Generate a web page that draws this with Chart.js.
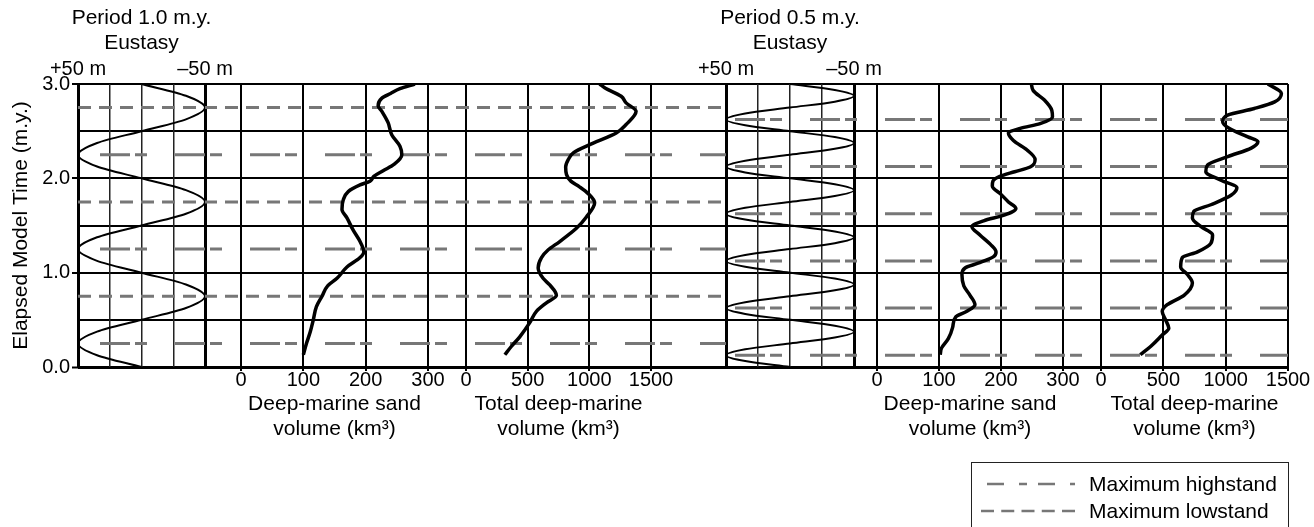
<!DOCTYPE html>
<html>
<head>
<meta charset="utf-8">
<script src="https://cdn.jsdelivr.net/npm/chart.js@4.4.1/dist/chart.umd.min.js"></script>
<style>
  body { margin: 0; background: #fff; font-family: "Liberation Sans", Arial, sans-serif; }
  #wrap { position: relative; width: 1314px; height: 527px; overflow: hidden; }
  #chart { position: absolute; left: 0; top: 0; }
  #legend { position: absolute; left: 971px; top: 462px; width: 316px; height: 90px; border: 1px solid #222; }
  #legend svg { position: absolute; left: 0; top: 0; }
  #legend span { position: absolute; left: 117px; font-size: 21px; line-height: 24px; color: #000; white-space: nowrap; }
</style>
</head>
<body>
<div id="wrap">
  <canvas id="chart" width="1314" height="527"></canvas>
  <div id="legend">
    <svg width="316" height="90">
      <line x1="15" y1="21" x2="103" y2="21" stroke="#777" stroke-width="2.5" stroke-dasharray="17 15 8 11"/>
      <line x1="9" y1="48" x2="103" y2="48" stroke="#777" stroke-width="2.5" stroke-dasharray="13 7.25"/>
    </svg>
    <span style="top:9px">Maximum highstand</span>
    <span style="top:36px">Maximum lowstand</span>
  </div>
</div>
<script>
// eustasy, period 1.0 m.y. (m, + = highstand)
const eust1Time = [0, 0.125, 0.25, 0.375, 0.5, 0.625, 0.75, 0.875, 1, 1.125, 1.25, 1.375, 1.5, 1.625, 1.75, 1.875,
  2, 2.125, 2.25, 2.375, 2.5, 2.625, 2.75, 2.875, 3];
const eust1Level = [0, 35, 50, 35, 0, -35, -50, -35, 0, 35, 50, 35, 0, -35, -50, -35,
  0, 35, 50, 35, 0, -35, -50, -35, 0];

// eustasy, period 0.5 m.y.
const eust2Time = [0, 0.0625, 0.125, 0.1875, 0.25, 0.3125, 0.375, 0.4375, 0.5, 0.5625, 0.625, 0.6875, 0.75, 0.8125, 0.875, 0.9375,
  1, 1.0625, 1.125, 1.1875, 1.25, 1.3125, 1.375, 1.4375, 1.5, 1.5625, 1.625, 1.6875, 1.75, 1.8125, 1.875, 1.9375,
  2, 2.0625, 2.125, 2.1875, 2.25, 2.3125, 2.375, 2.4375, 2.5, 2.5625, 2.625, 2.6875, 2.75, 2.8125, 2.875, 2.9375, 3];
const eust2Level = [0, 35, 50, 35, 0, -35, -50, -35, 0, 35, 50, 35, 0, -35, -50, -35,
  0, 35, 50, 35, 0, -35, -50, -35, 0, 35, 50, 35, 0, -35, -50, -35,
  0, 35, 50, 35, 0, -35, -50, -35, 0, 35, 50, 35, 0, -35, -50, -35, 0];

// deep-marine sand volume (km3), period 1.0
const sand1Time = [0.13, 0.25, 0.37, 0.5, 0.64, 0.75, 0.86, 0.94, 1.06, 1.16, 1.22, 1.33, 1.45, 1.58, 1.67, 1.77,
  1.86, 1.93, 1.97, 2.02, 2.08, 2.15, 2.25, 2.34, 2.46, 2.59, 2.71, 2.77, 2.85, 2.9, 2.95, 3.0];
const sand1Vol = [100, 105, 111, 116, 121, 130, 139, 154, 170, 191, 197, 191, 180, 170, 162, 164,
  172, 191, 207, 213, 228, 246, 258, 255, 242, 236, 226, 220, 226, 240, 255, 279];

// total deep-marine volume (km3), period 1.0
const total1Time = [0.13, 0.22, 0.32, 0.47, 0.59, 0.68, 0.76, 0.87, 0.94, 1.05, 1.16, 1.24, 1.33, 1.47, 1.59, 1.74,
  1.84, 1.91, 1.97, 2.04, 2.12, 2.2, 2.27, 2.37, 2.48, 2.57, 2.71, 2.8, 2.87, 2.96, 3.0];
const total1Vol = [315, 369, 436, 517, 571, 652, 733, 679, 625, 585, 612, 665, 760, 895, 976, 1043,
  989, 920, 850, 815, 808, 830, 870, 1027, 1218, 1298, 1379, 1298, 1258, 1124, 1083];

// deep-marine sand volume (km3), period 0.5
const sand2Time = [0.13, 0.2, 0.3, 0.42, 0.53, 0.59, 0.66, 0.76, 0.86, 0.98, 1.05, 1.1, 1.17, 1.22, 1.3, 1.4,
  1.49, 1.55, 1.61, 1.68, 1.75, 1.83, 1.92, 1.97, 2.02, 2.07, 2.12, 2.2, 2.3, 2.4, 2.48, 2.53,
  2.58, 2.65, 2.72, 2.83, 2.93, 3.0];
const sand2Vol = [102, 104, 115, 122, 127, 145, 158, 150, 140, 137, 142, 163, 188, 192, 183, 166,
  153, 172, 205, 224, 212, 200, 186, 187, 198, 222, 247, 255, 242, 220, 212, 231,
  263, 283, 282, 270, 252, 249];

// total deep-marine volume (km3), period 0.5
const total2Time = [0.13, 0.22, 0.34, 0.41, 0.5, 0.59, 0.66, 0.76, 0.89, 0.98, 1.06, 1.16, 1.22, 1.31, 1.4, 1.49,
  1.58, 1.65, 1.72, 1.82, 1.9, 1.98, 2.07, 2.14, 2.23, 2.32, 2.39, 2.44, 2.53, 2.6, 2.67, 2.74,
  2.81, 2.9, 3.0];
const total2Vol = [315, 400, 491, 544, 518, 491, 531, 666, 733, 693, 639, 652, 774, 881, 895, 800,
  733, 745, 881, 1043, 1090, 962, 841, 854, 1016, 1205, 1259, 1178, 1027, 976, 1016, 1230,
  1393, 1447, 1339];

// times of maximum highstand / lowstand
const highstand1 = [0.25, 1.25, 2.25];
const lowstand1 = [0.75, 1.75, 2.75];
const highstand2 = [0.125, 0.625, 1.125, 1.625, 2.125, 2.625];

Chart.defaults.font.family = '"Liberation Sans", Arial, sans-serif';
Chart.defaults.font.size = 20;
Chart.defaults.color = '#000';

const HIGH_DASH = [30, 5, 12, 28];
const LOW_DASH = [13, 8];
const TITLE_FONT = { size: 21 };

function curve(times, vals, axis, width, order) {
  return {
    data: times.map((t, i) => ({ x: vals[i], y: t })),
    xAxisID: axis, yAxisID: 'y',
    borderColor: '#000', borderWidth: width,
    pointRadius: 0, fill: false,
    cubicInterpolationMode: 'monotone',
    order: order
  };
}

// a level line across one half of the figure (from scale min to max)
function level(t, axis, dash, offset) {
  return {
    data: [{ x: 0, y: t }, { x: 1, y: t }],
    xAxisID: axis, yAxisID: 'y',
    borderColor: '#777', borderWidth: 3,
    borderDash: dash, borderDashOffset: offset,
    pointRadius: 0, fill: false, order: 2
  };
}

function hidden(pos, stack, weight, h) {
  return {
    type: 'linear', axis: 'x', position: pos, display: false,
    stack: stack, stackWeight: weight, min: 0, max: 1,
    afterFit: s => { s.height = h; }
  };
}

// eustasy axis on top; the heading sits on the centre tick so it is not squeezed to the panel width
function eustAxis(weight, period) {
  return {
    type: 'linear', axis: 'x', position: 'top', stack: 'top', stackWeight: weight,
    min: -50, max: 50, reverse: true,
    border: { display: false },
    grid: {
      drawTicks: false,
      color: c => Math.abs(c.tick.value) === 50 ? '#000' : '#222',
      lineWidth: c => Math.abs(c.tick.value) === 50 ? 3 : 1.5
    },
    ticks: {
      stepSize: 25, padding: 3, autoSkip: false, maxRotation: 0,
      font: c => c.tick && c.tick.value === 0 ? TITLE_FONT : { size: 20 },
      callback: v => v === 50 ? '+50 m' : v === -50 ? '\u201350 m' : v === 0 ? [period, 'Eustasy', ''] : ''
    },
    afterFit: s => { s.height = 84; s.paddingLeft = 0; s.paddingRight = 0; }
  };
}

function volAxis(weight, max, step, title) {
  return {
    type: 'linear', axis: 'x', position: 'bottom', stack: 'bot', stackWeight: weight,
    min: 0, max: max,
    border: { display: false },
    grid: { color: '#000', lineWidth: 2, drawTicks: true, tickLength: 4, tickWidth: 2, tickColor: '#000' },
    ticks: { stepSize: step, padding: -3, autoSkip: false, maxRotation: 0, callback: v => String(v) },
    title: { display: true, text: title, font: TITLE_FONT, padding: { top: 0, bottom: 0 } },
    afterFit: s => { s.height = 75; s.paddingLeft = 0; s.paddingRight = 0; }
  };
}

const sandTitle = ['Deep-marine sand', 'volume (km\u00b3)'];
const totalTitle = ['Total deep-marine', 'volume (km\u00b3)'];

const datasets = [
  curve(sand1Time, sand1Vol, 'sand1', 3.5, 0),
  curve(total1Time, total1Vol, 'total1', 3.5, 0),
  curve(sand2Time, sand2Vol, 'sand2', 3.5, 0),
  curve(total2Time, total2Vol, 'total2', 3.5, 0),
  curve(eust1Time, eust1Level, 'eust1', 2, 1),
  curve(eust2Time, eust2Level, 'eust2', 2, 1)
];
highstand1.forEach(t => datasets.push(level(t, 'halfL', HIGH_DASH, 53)));
lowstand1.forEach(t => datasets.push(level(t, 'halfL', LOW_DASH, 0)));
highstand2.forEach(t => datasets.push(level(t, 'halfR', HIGH_DASH, 66)));

new Chart(document.getElementById('chart'), {
  type: 'line',
  data: { datasets: datasets },
  options: {
    indexAxis: 'y',
    responsive: false,
    animation: false,
    events: [],
    layout: { padding: { left: 0, top: 0, right: 26, bottom: 85 } },
    plugins: { legend: { display: false }, tooltip: { enabled: false } },
    scales: {
      y: {
        type: 'linear', position: 'left', min: 0, max: 3,
        border: { display: false },
        grid: {
          color: '#000',
          lineWidth: c => c.tick.value === 0 ? 3 : 2,
          tickLength: 6, tickWidth: 2,
          tickColor: c => Number.isInteger(c.tick.value) ? '#000' : 'rgba(0,0,0,0)'
        },
        ticks: { stepSize: 0.5, padding: 2, autoSkip: false, callback: v => Number.isInteger(v) ? v.toFixed(1) : '' },
        title: { display: true, text: 'Elapsed Model Time (m.y.)', font: TITLE_FONT, padding: { top: 9, bottom: 0 } },
        afterFit: s => { s.width = 78; s.paddingTop = 0; s.paddingBottom = 0; }
      },
      // top row (placed right to left by Chart.js)
      fillTR: hidden('top', 'top', 434, 84),
      eust2: eustAxis(128, 'Period 0.5 m.y.'),
      fillTL: hidden('top', 'top', 521, 84),
      eust1: eustAxis(127, 'Period 1.0 m.y.'),
      // bottom row
      padE1: hidden('bottom', 'bot', 127, 75),
      gapA: hidden('bottom', 'bot', 36, 75),
      sand1: volAxis(187, 300, 100, sandTitle),
      gapB: hidden('bottom', 'bot', 38, 75),
      total1: volAxis(185, 1500, 500, totalTitle),
      gapC: hidden('bottom', 'bot', 75, 75),
      padE2: hidden('bottom', 'bot', 128, 75),
      gapD: hidden('bottom', 'bot', 23, 75),
      sand2: volAxis(186, 300, 100, sandTitle),
      gapE: hidden('bottom', 'bot', 38, 75),
      total2: volAxis(187, 1500, 500, totalTitle),
      // the two halves, for the level lines
      halfL: hidden('bottom', 'half', 648, 0),
      halfR: hidden('bottom', 'half', 562, 0)
    }
  }
});
</script>
</body>
</html>
